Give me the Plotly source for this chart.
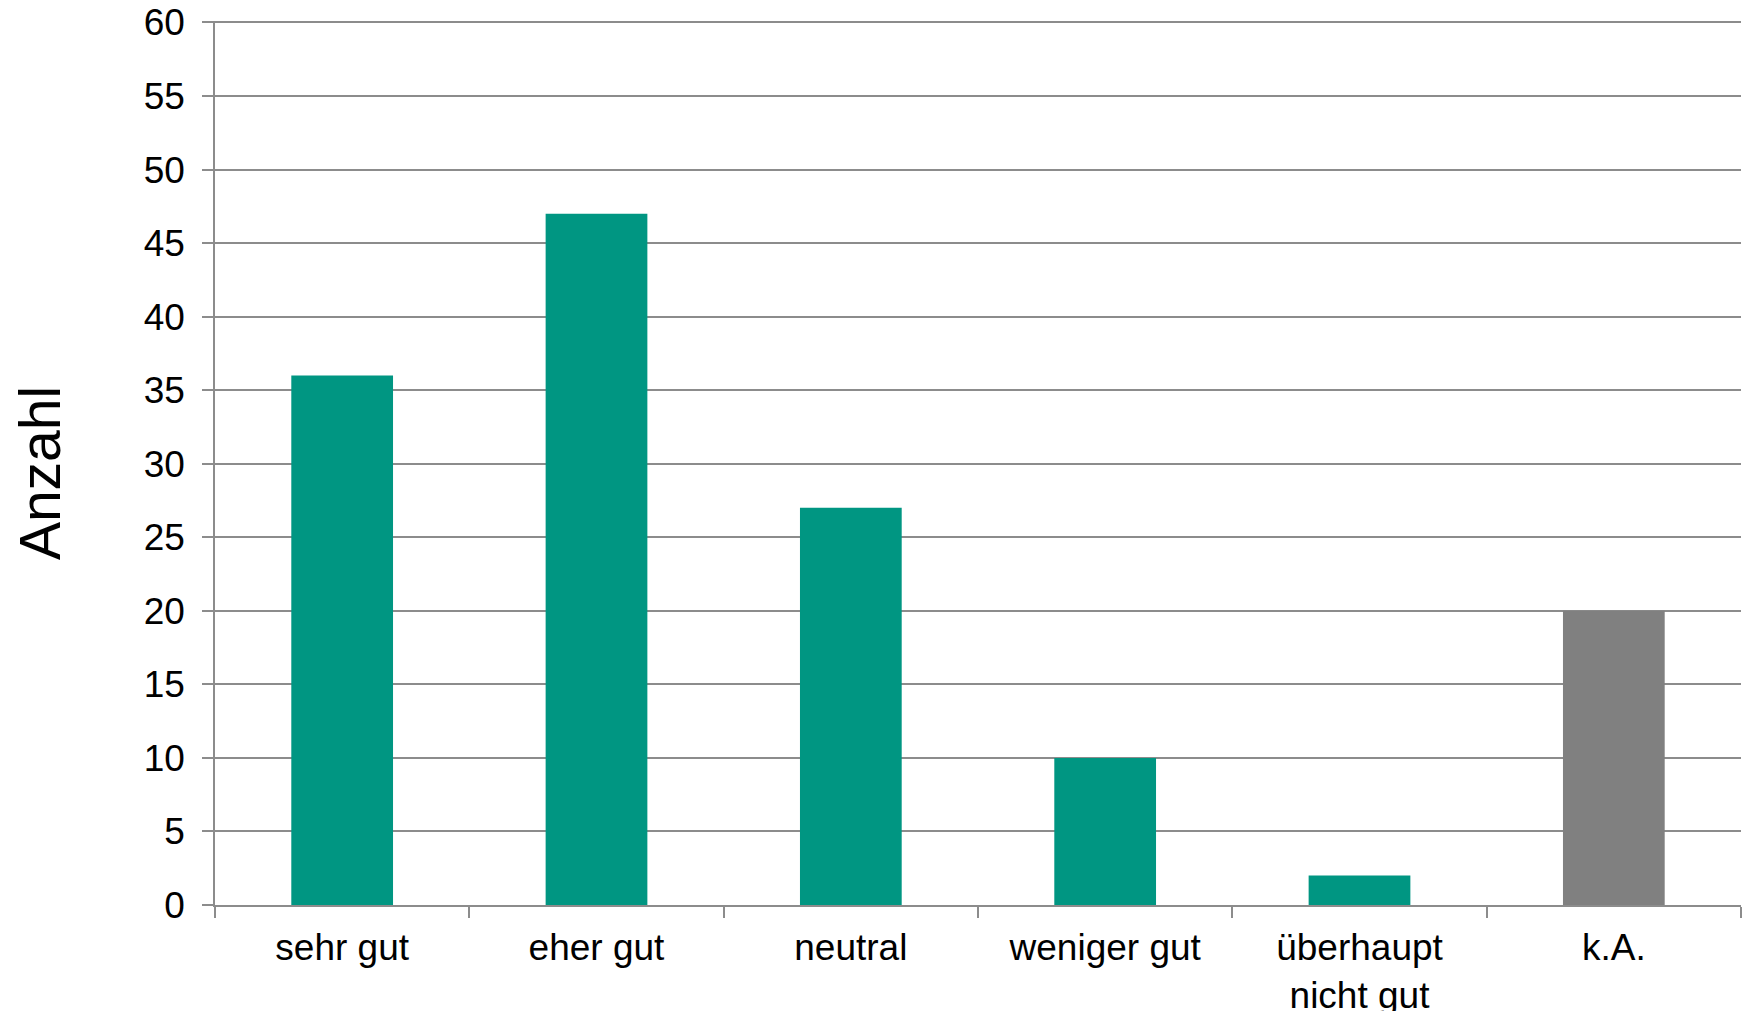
import plotly.graph_objects as go

categories = ["sehr gut", "eher gut", "neutral", "weniger gut", "überhaupt<br>nicht gut", "k.A."]
values = [36, 47, 27, 10, 2, 20]
bar_colors = ["#009682", "#009682", "#009682", "#009682", "#009682", "#808080"]
y_ticks = list(range(0, 61, 5))
y_title = "Anzahl"

FONT = "Liberation Sans, Arial, sans-serif"
GRID = "#8c8c8c"

fig = go.Figure(go.Bar(x=categories, y=values, marker=dict(color=bar_colors, line=dict(width=0)), width=0.4))

fig.update_layout(
    width=1744, height=1011,
    margin=dict(l=215, r=3, t=21, b=106),
    paper_bgcolor="white", plot_bgcolor="white",
    showlegend=False,
    font=dict(family=FONT, color="black", size=37),
)
fig.update_xaxes(
    showline=True, linecolor=GRID, linewidth=1.5,
    ticks="outside", ticklen=11, tickcolor=GRID, tickwidth=1.5,
    tickson="boundaries", tickfont=dict(size=37, family=FONT),
    ticklabelstandoff=9, showgrid=False, automargin=False,
)
fig.update_yaxes(
    range=[0, 60.1], tickvals=y_ticks,
    showline=True, linecolor=GRID, linewidth=1.5,
    showgrid=True, gridcolor=GRID, gridwidth=1.5, zeroline=False,
    ticks="outside", ticklen=11, tickcolor=GRID, tickwidth=1.5,
    tickfont=dict(size=37, family=FONT), ticklabelstandoff=10,
    automargin=False,
)
fig.add_annotation(
    text=y_title, xref="paper", yref="paper", x=-0.115, y=0.488,
    xanchor="center", yanchor="middle", textangle=-90, showarrow=False,
    font=dict(size=57, family=FONT, color="black"),
)

fig.write_html(
    "out.html",
    config={"displayModeBar": False},
    post_script="document.body.style.margin='0';document.body.style.overflow='hidden';",
)
